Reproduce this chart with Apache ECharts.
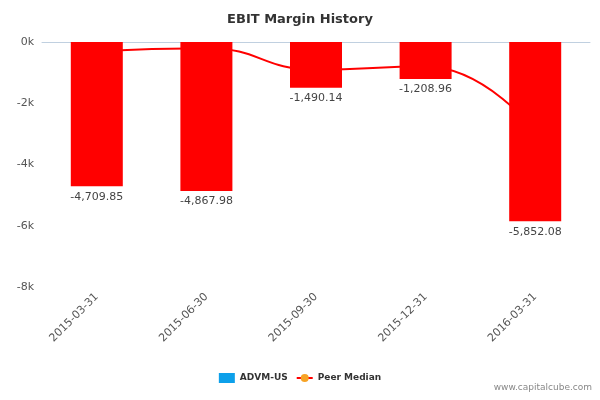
<!DOCTYPE html>
<html>
<head>
<meta charset="utf-8">
<script src="https://cdn.jsdelivr.net/npm/echarts@6/dist/echarts.min.js"></script>
<style>html,body{margin:0;padding:0;background:#fff}#main{width:600px;height:400px}</style>
</head>
<body>
<div id="main"></div>
<script>
// EBIT margin history
var categories = ['2015-03-31', '2015-06-30', '2015-09-30', '2015-12-31', '2016-03-31'];
var companyValues = [-4709.85, -4867.98, -1490.14, -1208.96, -5852.08];
var peerMedian = [-300, -200, -900, -800, -2900];

var chart = echarts.init(document.getElementById('main'));
var option = {
  animation: false,
  title: {
    text: 'EBIT Margin History',
    left: 'center',
    top: 8,
    textStyle: { fontFamily: 'DejaVu Sans', fontSize: 13, fontWeight: 'bold', color: '#333' }
  },
  legend: {
    bottom: 12,
    left: 'center',
    itemWidth: 16,
    itemHeight: 10,
    textStyle: { fontFamily: 'DejaVu Sans', fontSize: 9, fontWeight: 'bold', color: '#333' },
    data: [
      { name: 'ADVM-US', icon: 'rect', itemStyle: { color: '#0da0ea' } },
      { name: 'Peer Median' }
    ]
  },
  grid: { left: 42, right: 10, top: 42, bottom: 113 },
  xAxis: {
    type: 'category',
    data: categories,
    axisLine: { lineStyle: { color: '#c0d0e0' } },
    axisTick: { lineStyle: { color: '#c0d0e0' }, length: 8 },
    axisLabel: { rotate: 45, fontFamily: 'DejaVu Sans', fontSize: 11, color: '#555' }
  },
  yAxis: {
    type: 'value',
    min: -8000,
    max: 0,
    interval: 2000,
    axisLabel: {
      fontFamily: 'DejaVu Sans', fontSize: 11, color: '#555',
      formatter: function (v) { return (v / 1000) + 'k'; }
    },
    splitLine: { show: false },
    axisLine: { show: false },
    axisTick: { show: false }
  },
  series: [
    {
      name: 'Peer Median',
      type: 'line',
      smooth: true,
      symbol: 'none',
      data: peerMedian,
      z: 1,
      itemStyle: { color: '#f7a325' },
      lineStyle: { color: '#ff0000', width: 2 }
    },
    {
      name: 'ADVM-US',
      type: 'bar',
      barWidth: 52,
      data: companyValues,
      z: 2,
      itemStyle: { color: '#ff0000' },
      label: {
        show: true,
        position: 'bottom',
        fontFamily: 'DejaVu Sans', fontSize: 11, color: '#444',
        formatter: function (p) {
          return p.value.toLocaleString('en-US', { minimumFractionDigits: 2, maximumFractionDigits: 2 });
        }
      }
    }
  ],
  graphic: [{
    type: 'text', right: 8, bottom: 8,
    style: { text: 'www.capitalcube.com', fontFamily: 'DejaVu Sans', fontSize: 9, fill: '#888' }
  }]
};
chart.setOption(option);
</script>
</body>
</html>
